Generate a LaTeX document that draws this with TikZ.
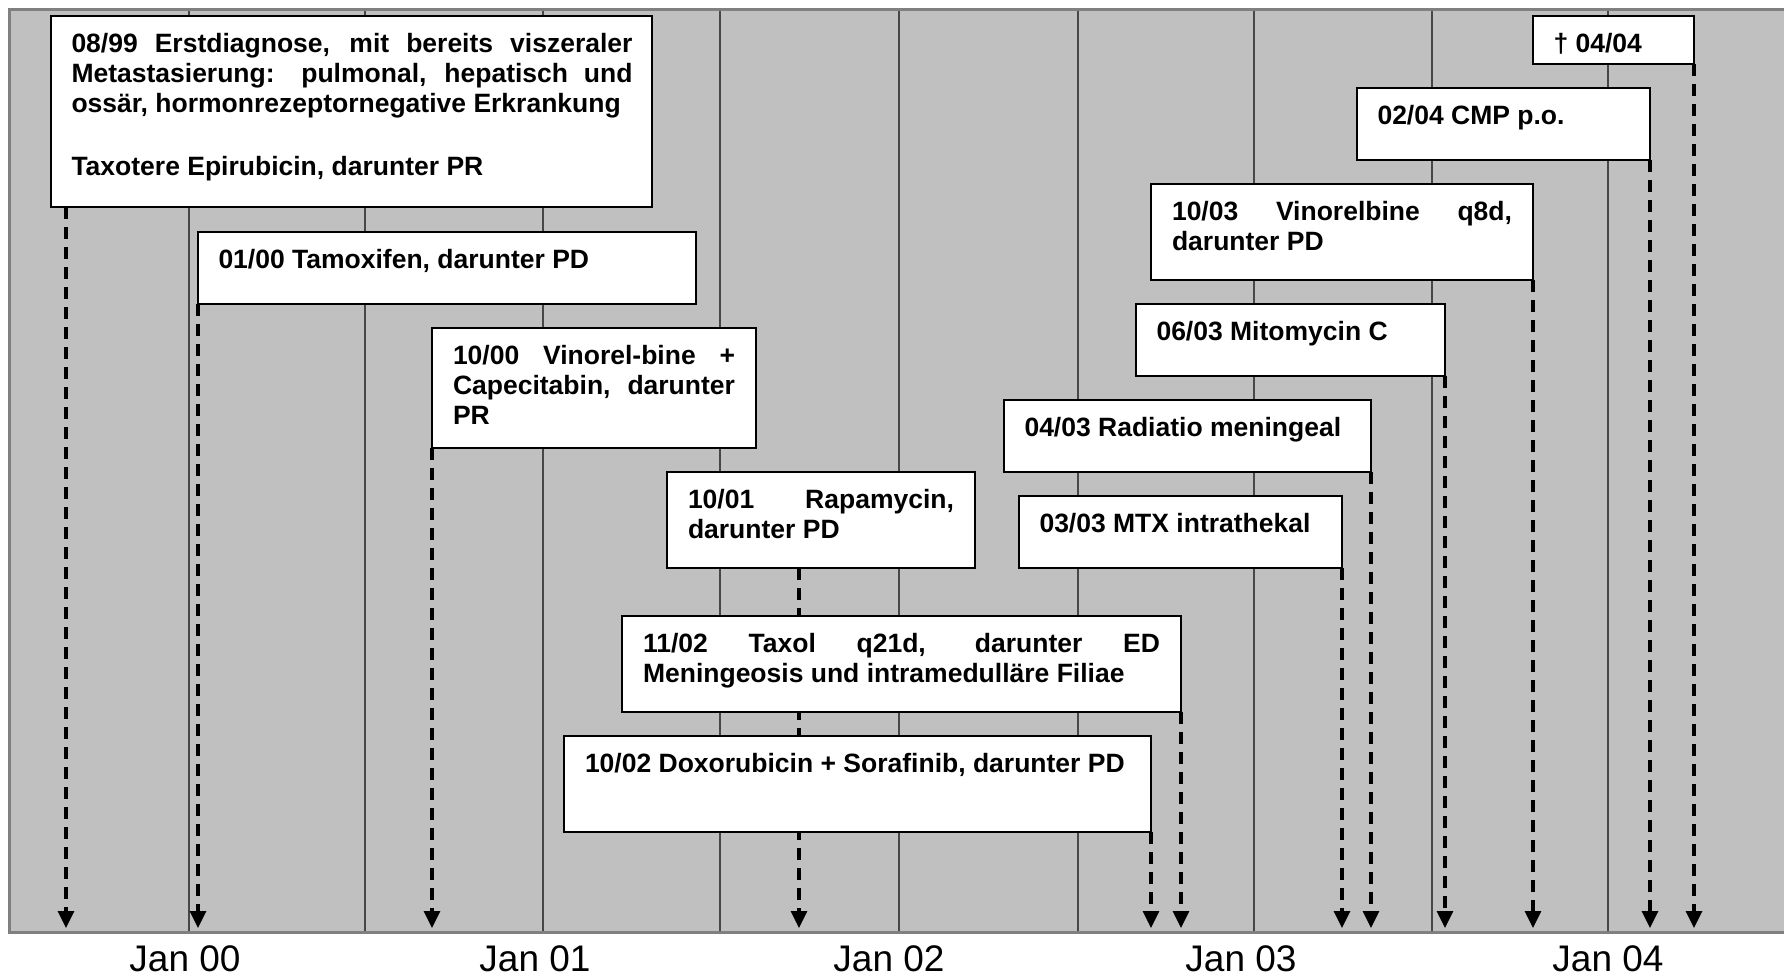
\documentclass[tikz,border=0pt]{standalone}
\usepackage{fontspec}
\setmainfont{Liberation Sans}
\usetikzlibrary{arrows.meta,calc}
\pgfdeclarelayer{bg}
\pgfdeclarelayer{mid}
\pgfsetlayers{bg,mid,main}
\definecolor{plotbg}{HTML}{C0C0C0}
\definecolor{bordc}{HTML}{808080}
\definecolor{gridc}{HTML}{474747}
\newcommand\jline[2]{\makebox[#1][s]{#2}}
\begin{document}
\begin{tikzpicture}[x=1pt,y=-1pt,
  box/.style={draw=black, line width=2.5pt, fill=white, inner sep=0pt, outer sep=0pt, anchor=north west},
  txt/.style={inner sep=0pt, outer sep=0pt, anchor=base west, font=\fontsize{26.5}{30.2}\selectfont\bfseries},
  arr/.style={line width=3.2pt, dash pattern=on 12pt off 8pt, -{Triangle[width=16pt,length=17pt]}},
  gridline/.style={draw=gridc, line width=1.3pt},
  bord/.style={draw=bordc, line width=2.8pt},
  lab/.style={font=\fontsize{37}{40}\selectfont, anchor=base, inner sep=0pt, text depth=0pt}
]
\useasboundingbox (0,0) rectangle (1784,977);

% plot area
\begin{pgfonlayer}{bg}
  \fill[plotbg] (9.5,9.5) rectangle (1784,932.5);
  \foreach \x in {189,365,543,720,899,1078,1254,1432,1608}
    \draw[gridline] (\x,9.5) -- (\x,932.5);
  \draw[bord] (1784,9.5) -- (9.5,9.5) -- (9.5,932.5) -- (1784,932.5);
\end{pgfonlayer}

% boxes
\node[box, minimum width=601pt, minimum height=191pt] (b1) at (51,16) {};
\node[box, minimum width=498pt, minimum height=72pt]  (b2) at (198,232) {};
\node[box, minimum width=324pt, minimum height=120pt] (b3) at (432,328) {};
\node[box, minimum width=308pt, minimum height=96pt]  (b4) at (667,472) {};
\node[box, minimum width=559pt, minimum height=96pt]  (b5) at (622,616) {};
\node[box, minimum width=587pt, minimum height=96pt]  (b6) at (564,736) {};
\node[box, minimum width=323pt, minimum height=72pt]  (b7) at (1019,496) {};
\node[box, minimum width=367pt, minimum height=72pt]  (b8) at (1004,400) {};
\node[box, minimum width=309pt, minimum height=72pt]  (b9) at (1136,304) {};
\node[box, minimum width=382pt, minimum height=96pt]  (b10) at (1151,184) {};
\node[box, minimum width=293pt, minimum height=72pt]  (b11) at (1357,88) {};
\node[box, minimum width=161pt, minimum height=48pt]  (b12) at (1533,16) {};

% texts
\node[txt] (t1) at ($(b1.north west)+(20.5,36.5)$) {\parbox[t]{561pt}{%
  \jline{561pt}{08/99 Erstdiagnose, mit bereits viszeraler}\\
  \jline{561pt}{Metastasierung: pulmonal, hepatisch und}\\
  ossär, hormonrezeptornegative Erkrankung\\[32.3pt]
  Taxotere Epirubicin, darunter PR}};
\node[txt] (t2) at ($(b2.north west)+(20.5,36.5)$) {01/00 Tamoxifen, darunter PD};
\node[txt] (t3) at ($(b3.north west)+(21,36.5)$) {\parbox[t]{282pt}{%
  \jline{282pt}{10/00 Vinorel-bine +}\\
  \jline{282pt}{Capecitabin, darunter}\\
  PR}};
\node[txt] (t4) at ($(b4.north west)+(21,36.5)$) {\parbox[t]{266pt}{%
  \jline{266pt}{10/01 Rapamycin,}\\
  darunter PD}};
\node[txt] (t5) at ($(b5.north west)+(21,36.5)$) {\parbox[t]{517pt}{%
  \jline{517pt}{11/02 Taxol q21d, darunter ED}\\
  Meningeosis und intramedulläre Filiae}};
\node[txt] (t6) at ($(b6.north west)+(21,36.5)$) {10/02 Doxorubicin + Sorafinib, darunter PD};
\node[txt] (t7) at ($(b7.north west)+(20.5,36.5)$) {03/03 MTX intrathekal};
\node[txt] (t8) at ($(b8.north west)+(20.5,36.5)$) {04/03 Radiatio meningeal};
\node[txt] (t9) at ($(b9.north west)+(20.5,36.5)$) {06/03 Mitomycin C};
\node[txt] (t10) at ($(b10.north west)+(21,36.5)$) {\parbox[t]{340pt}{%
  \jline{340pt}{10/03 Vinorelbine q8d,}\\
  darunter PD}};
\node[txt] (t11) at ($(b11.north west)+(20.5,36.5)$) {02/04 CMP p.o.};
\node[txt] (t12) at ($(b12.north west)+(20.5,36.5)$) {† 04/04};

% arrow ends on the time axis
\coordinate (e1) at (66,928);
\coordinate (e2) at (198,928);
\coordinate (e3) at (432,928);
\coordinate (e4) at (799,928);
\coordinate (e6) at (1151,928);
\coordinate (e5) at (1181,928);
\coordinate (e7) at (1342,928);
\coordinate (e8) at (1371,928);
\coordinate (e9) at (1445,928);
\coordinate (e10) at (1533,928);
\coordinate (e11) at (1650,928);
\coordinate (e12) at (1694,928);

\begin{pgfonlayer}{mid}
  \draw[arr] (e1 |- b1.south) -- (e1);
  \draw[arr] (b2.south west) -- (e2);
  \draw[arr] (b3.south west) -- (e3);
  \draw[arr] (e4 |- b4.south) -- (e4);
  \draw[arr] (b6.south east) -- (e6);
  \draw[arr] (b5.south east) -- (e5);
  \draw[arr] (b7.south east) -- (e7);
  \draw[arr] (b8.south east) -- (e8);
  \draw[arr] (b9.south east) -- (e9);
  \draw[arr] (b10.south east) -- (e10);
  \draw[arr] (b11.south east) -- (e11);
  \draw[arr] (b12.south east) -- (e12);
\end{pgfonlayer}

% axis labels
\node[lab] (j0) at (185,971) {Jan 00};
\node[lab] (j1) at (535,971) {Jan 01};
\node[lab] (j2) at (889,971) {Jan 02};
\node[lab] (j3) at (1241,971) {Jan 03};
\node[lab] (j4) at (1608,971) {Jan 04};
\end{tikzpicture}
\end{document}
